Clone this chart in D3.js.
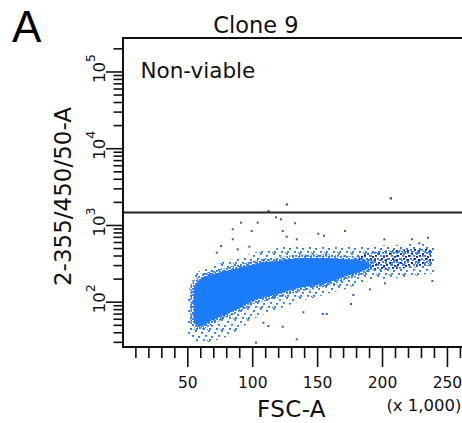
<!DOCTYPE html>
<html><head><meta charset="utf-8">
<script src="https://cdn.jsdelivr.net/npm/d3@7"></script>
<style>html,body{margin:0;padding:0;background:#fff;}svg{display:block;}</style>
</head><body>
<svg id="chart" width="462" height="423"></svg>
<script>
// Dense core of the population: FSC-A bin and the DAPI range that is filled solid
const coreFsc  = [55000, 60000, 70000, 80000, 90000, 100000, 110000, 120000, 130000, 140000, 150000, 160000, 170000, 180000, 190000];
const coreHigh = [151, 197, 229, 251, 275, 301, 329, 339, 360, 371, 371, 371, 360, 349, 329];
const coreLow  = [53, 48, 58, 69, 83, 102, 115, 126, 142, 155, 165, 181, 210, 236, 275];

// Sparse fringe of events around the core
const haloFsc  = [50000, 55000, 60000, 70000, 80000, 90000, 100000, 110000, 120000, 130000, 140000, 150000, 160000, 170000, 180000, 190000, 200000, 210000, 220000, 230000, 240000];
const haloHigh = [122, 204, 259, 301, 339, 371, 431, 472, 501, 532, 532, 532, 516, 516, 532, 532, 548, 548, 565, 565, 548];
const haloLow  = [39, 32, 29, 31, 35, 43, 58, 69, 80, 93, 105, 115, 130, 142, 165, 186, 198, 204, 210, 223, 237];

// Large-cell tail drawn in the darker overlay colour
const tailFsc  = [178000, 190000, 200000, 210000, 220000, 230000, 238000];
const tailHigh = [371, 430, 460, 472, 486, 486, 486];
const tailLow  = [250, 259, 259, 267, 275, 283, 300];

// Scattered single events outside the main cloud
const strayFsc   = [91400, 104200, 118300, 122200, 133000, 85000, 99600, 123500, 150900, 155300, 171500, 201800, 223100, 235400, 85000, 126600, 134300, 76000, 88800, 97800, 72700, 228700, 139400, 154300, 157400, 123500, 134300, 102900, 176100, 177900, 202300, 238800, 190800, 108600, 112400];
const strayValue = [1072, 1072, 1259, 1186, 1051, 879, 834, 834, 769, 725, 834, 650, 650, 683, 650, 703, 650, 532, 482, 521, 435, 577, 72.8, 69.2, 69.2, 47.2, 32.4, 29.3, 93.3, 122.3, 173.8, 186, 145, 53.2, 48.2];

// Events in the non-viable gate
const gatedFsc   = [112400, 126600, 206700];
const gatedValue = [1521, 1858, 2228];
const gatedColor = ["#b03a3a", "#b03a3a", "#3a3a70"];

const gateValue = 1450;

const xMajor = [50000, 100000, 150000, 200000, 250000];
const xMajorLabels = ["50", "100", "150", "200", "250"];
const yMajor = [100, 1000, 10000, 100000];
const yExponents = ["2", "3", "4", "5"];

const svg = d3.select("#chart");
const font = "DejaVu Sans, Verdana, sans-serif";

const frameL = 123, frameR = 463, frameT = 38, frameB = 347;
const x = d3.scaleLinear().domain([0, 262144]).range([122.4, 462.7]);
const y = d3.scaleLog().domain([25.7, 273000]).range([frameB, frameT]);

// textures for the scattered events
const defs = svg.append("defs");
function texture(id, w, h, dots) {
  const p = defs.append("pattern").attr("id", id).attr("patternUnits", "userSpaceOnUse")
    .attr("width", w).attr("height", h);
  dots.forEach(([a, b, c]) => p.append("rect").attr("x", a).attr("y", b)
    .attr("width", 2).attr("height", 1.8).attr("fill", c));
}
const lb = "#2a78ee", db = "#1a1aa0";
texture("speck", 13, 11, [[0,0,lb],[6,2,lb],[10,5,lb],[3,6,lb],[8,9,lb],[12,10,lb],[1,9,lb]]);
texture("fringe", 6, 6, [[0,0,lb],[3,1,lb],[1,3,lb],[4,4,lb],[5,2,lb]]);
texture("tailTex", 11, 9, [[0,0,lb],[4,1,db],[8,0,lb],[1,3,db],[6,3,lb],[9,4,db],[3,6,lb],[7,6,db],[0,7,db],[5,8,lb],[10,8,lb]]);

const plot = svg.append("g");
defs.append("clipPath").attr("id", "clip").append("rect")
  .attr("x", frameL).attr("y", frameT).attr("width", frameR - frameL).attr("height", frameB - frameT);
const cloud = plot.append("g").attr("clip-path", "url(#clip)");

const band = (xs, hi, lo) => xs.map((f, i) => ({f, hi: hi[i], lo: lo[i]}));
const area = d3.area().x(d => x(d.f)).y0(d => y(d.lo)).y1(d => y(d.hi)).curve(d3.curveCatmullRom);

cloud.append("path").datum(band(haloFsc, haloHigh, haloLow)).attr("d", area).attr("fill", "url(#speck)");
cloud.append("path").datum(band(tailFsc, tailHigh, tailLow)).attr("d", area)
  .attr("fill", "url(#tailTex)").attr("stroke", "url(#speck)").attr("stroke-width", 5);
cloud.append("path").datum(band(coreFsc, coreHigh, coreLow)).attr("d", area)
  .attr("fill", "#1a7cf8").attr("stroke", "url(#fringe)").attr("stroke-width", 7);

cloud.selectAll("rect.stray").data(strayFsc).join("rect").attr("class", "stray")
  .attr("x", (d) => x(d) - 1).attr("y", (d, i) => y(strayValue[i]) - 1)
  .attr("width", 2).attr("height", 2).attr("fill", "#2b5fc0");
cloud.selectAll("rect.gated").data(gatedFsc).join("rect").attr("class", "gated")
  .attr("x", (d) => x(d) - 1).attr("y", (d, i) => y(gatedValue[i]) - 1)
  .attr("width", 2.2).attr("height", 2.2).attr("fill", (d, i) => gatedColor[i]);

// gate boundary
plot.append("line").attr("x1", frameL).attr("x2", frameR)
  .attr("y1", y(gateValue)).attr("y2", y(gateValue))
  .attr("stroke", "#222").attr("stroke-width", 2);

// x axis: 10k minor ticks, 50k labelled ticks
const xMinor = d3.range(10000, 262144, 10000).filter(v => v % 50000 !== 0);
const xg = svg.append("g").attr("transform", `translate(0,${frameB})`);
xg.append("g").call(d3.axisBottom(x).tickValues(xMinor).tickSize(11).tickFormat(""));
xg.append("g").call(d3.axisBottom(x).tickValues(xMajor).tickSize(20).tickPadding(10)
  .tickFormat((d, i) => xMajorLabels[i]));
xg.selectAll(".domain").remove();
xg.selectAll("line").attr("stroke", "#111").attr("stroke-width", 1.6);
xg.selectAll("text").attr("font-family", font).attr("font-size", 15.5).attr("fill", "#111");

// y axis: log decades with 2..9 minor ticks
const yMinor = [];
for (let e = 1; e <= 5; e++) for (let m = 2; m <= 9; m++) {
  const v = m * Math.pow(10, e);
  if (v >= 25.7 && v <= 273000) yMinor.push(v);
}
const yg = svg.append("g").attr("transform", `translate(${frameL},0)`);
yg.append("g").call(d3.axisLeft(y).tickValues(yMinor).tickSize(9.5).tickFormat(""));
yg.append("g").call(d3.axisLeft(y).tickValues(yMajor).tickSize(17).tickFormat(""));
yg.selectAll(".domain").remove();
yg.selectAll("line").attr("stroke", "#111").attr("stroke-width", 1.6);
yMajor.forEach((v, i) => {
  const t = svg.append("text").attr("transform", `translate(105,${y(v) + 11.5}) rotate(-90)`)
    .attr("font-family", font).attr("font-size", 16.5).attr("fill", "#111");
  t.append("tspan").text("10");
  t.append("tspan").attr("dy", -10).attr("font-size", 12.5).text(yExponents[i]);
});

// frame
svg.append("rect").attr("x", frameL).attr("y", frameT).attr("width", frameR - frameL).attr("height", frameB - frameT)
  .attr("fill", "none").attr("stroke", "#111").attr("stroke-width", 2);

// texts
svg.append("text").attr("x", 12).attr("y", 42).attr("font-family", "Liberation Sans, Arial, sans-serif")
  .attr("font-size", 44).attr("fill", "#000").text("A");
svg.append("text").attr("x", 256).attr("y", 32.5).attr("text-anchor", "middle")
  .attr("font-family", font).attr("font-size", 22.5).attr("fill", "#111").text("Clone 9");
svg.append("text").attr("x", 140.5).attr("y", 77.5)
  .attr("font-family", font).attr("font-size", 21.5).attr("fill", "#111").text("Non-viable");
svg.append("text").attr("transform", "translate(71,196.5) rotate(-90)").attr("text-anchor", "middle")
  .attr("font-family", font).attr("font-size", 23).attr("fill", "#111").text("2-355/450/50-A");
svg.append("text").attr("x", 291.5).attr("y", 416.5).attr("text-anchor", "middle")
  .attr("font-family", font).attr("font-size", 23).attr("letter-spacing", 0.4).attr("fill", "#111").text("FSC-A");
svg.append("text").attr("x", 461.5).attr("y", 411).attr("text-anchor", "end")
  .attr("font-family", font).attr("font-size", 16.5).attr("fill", "#111").text("(x 1,000)");
</script>
</body></html>
